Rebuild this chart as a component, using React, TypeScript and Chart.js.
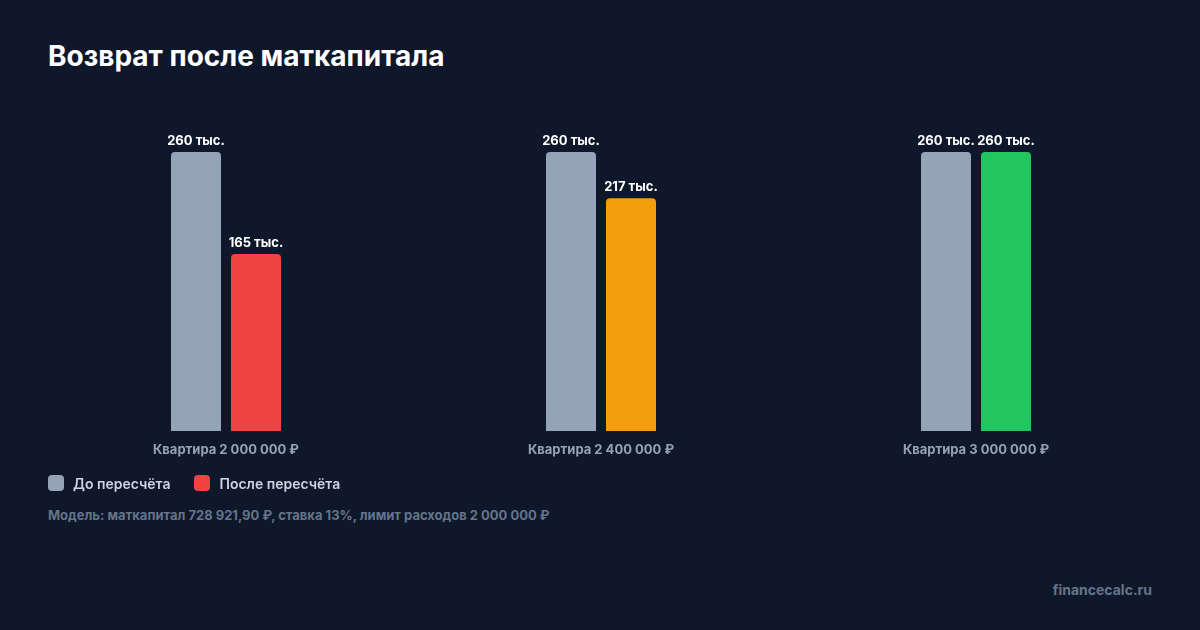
import React, { useEffect, useRef } from "react";
import { Chart, registerables } from "chart.js";

Chart.register(...registerables);

const categories = ["Квартира 2 000 000 ₽", "Квартира 2 400 000 ₽", "Квартира 3 000 000 ₽"];
const beforeValues = [260, 260, 260];
const afterValues = [165, 217, 260];
const beforeColor = "#94a3b8";
const afterColors = ["#ef4444", "#f59e0b", "#22c55e"];
const legendLabels = ["До пересчёта", "После пересчёта"];
const titleText = "Возврат после маткапитала";
const footnoteText = "Модель: маткапитал 728 921,90 ₽, ставка 13%, лимит расходов 2 000 000 ₽";
const watermarkText = "financecalc.ru";

const FONT = "Inter, 'Noto Sans', sans-serif";

const valueLabelPlugin = {
  id: "valueLabels",
  afterDatasetsDraw(chart: any) {
    const ctx = chart.ctx;
    ctx.save();
    ctx.font = `700 13px ${FONT}`;
    ctx.fillStyle = "#ffffff";
    ctx.textAlign = "center";
    ctx.textBaseline = "alphabetic";
    chart.data.datasets.forEach((ds: any, di: number) => {
      const meta = chart.getDatasetMeta(di);
      meta.data.forEach((el: any, i: number) => {
        const v = ds.data[i];
        ctx.fillText(`${v} тыс.`, el.x, el.y - 7);
      });
    });
    ctx.restore();
  },
};

export default function App() {
  const ref = useRef<HTMLCanvasElement | null>(null);

  useEffect(() => {
    if (!ref.current) return;
    const chart = new Chart(ref.current, {
      type: "bar",
      data: {
        labels: categories,
        datasets: [
          {
            label: legendLabels[0],
            data: beforeValues,
            backgroundColor: beforeColor,
            borderRadius: { topLeft: 4, topRight: 4, bottomLeft: 0, bottomRight: 0 },
            borderSkipped: false,
            barPercentage: 50 / 60,
            categoryPercentage: 0.32,
          },
          {
            label: legendLabels[1],
            data: afterValues,
            backgroundColor: afterColors,
            borderRadius: { topLeft: 4, topRight: 4, bottomLeft: 0, bottomRight: 0 },
            borderSkipped: false,
            barPercentage: 50 / 60,
            categoryPercentage: 0.32,
          },
        ],
      },
      options: {
        animation: false,
        responsive: false,
        devicePixelRatio: 1,
        layout: { padding: { left: 38.5, right: 36.5, top: 152, bottom: 12.4 } },
        plugins: {
          legend: { display: false },
          tooltip: { enabled: false },
          title: { display: false },
        },
        scales: {
          x: {
            grid: { display: false, drawTicks: false },
            border: { display: false },
            ticks: {
              color: "#94a3b8",
              font: { family: FONT, size: 13, weight: "bold" },
              padding: 11,
              maxRotation: 0,
            },
          },
          y: {
            display: false,
            min: 0,
            max: 260,
          },
        },
      },
      plugins: [valueLabelPlugin],
    });
    if ((document as any).fonts && (document as any).fonts.ready) {
      (document as any).fonts.ready.then(() => {
        try {
          chart.update();
        } catch (e) {}
      });
    }
    return () => chart.destroy();
  }, []);

  return (
    <div
      style={{
        position: "fixed",
        left: 0,
        top: 0,
        width: 1200,
        height: 630,
        background: "#0f172a",
        fontFamily: FONT,
        overflow: "hidden",
      }}
    >
      <div
        style={{
          position: "absolute",
          left: 48,
          top: 42,
          fontSize: 28,
          lineHeight: "28px",
          fontWeight: 700,
          color: "#ffffff",
          whiteSpace: "nowrap",
        }}
      >
        {titleText}
      </div>
      <canvas
        ref={ref}
        width={1200}
        height={481}
        style={{ position: "absolute", left: 0, top: 0, width: 1200, height: 481 }}
      />
      <div
        style={{
          position: "absolute",
          left: 48,
          top: 475,
          height: 16,
          display: "flex",
          alignItems: "center",
        }}
      >
        {legendLabels.map((lab, i) => (
          <div key={lab} style={{ display: "flex", alignItems: "center", marginRight: 24 }}>
            <span
              style={{
                width: 16,
                height: 16,
                borderRadius: 4,
                background: i === 0 ? beforeColor : afterColors[0],
                display: "inline-block",
                marginRight: 9,
              }}
            />
            <span style={{ fontSize: 14, fontWeight: 600, color: "#cbd5e1", whiteSpace: "nowrap" }}>
              {lab}
            </span>
          </div>
        ))}
      </div>
      <div
        style={{
          position: "absolute",
          left: 48,
          top: 507,
          fontSize: 13,
          lineHeight: "16px",
          fontWeight: 700,
          color: "#64748b",
          whiteSpace: "nowrap",
        }}
      >
        {footnoteText}
      </div>
      <div
        style={{
          position: "absolute",
          right: 48,
          top: 582,
          fontSize: 14,
          lineHeight: "16px",
          fontWeight: 700,
          color: "#64748b",
          whiteSpace: "nowrap",
        }}
      >
        {watermarkText}
      </div>
    </div>
  );
}
